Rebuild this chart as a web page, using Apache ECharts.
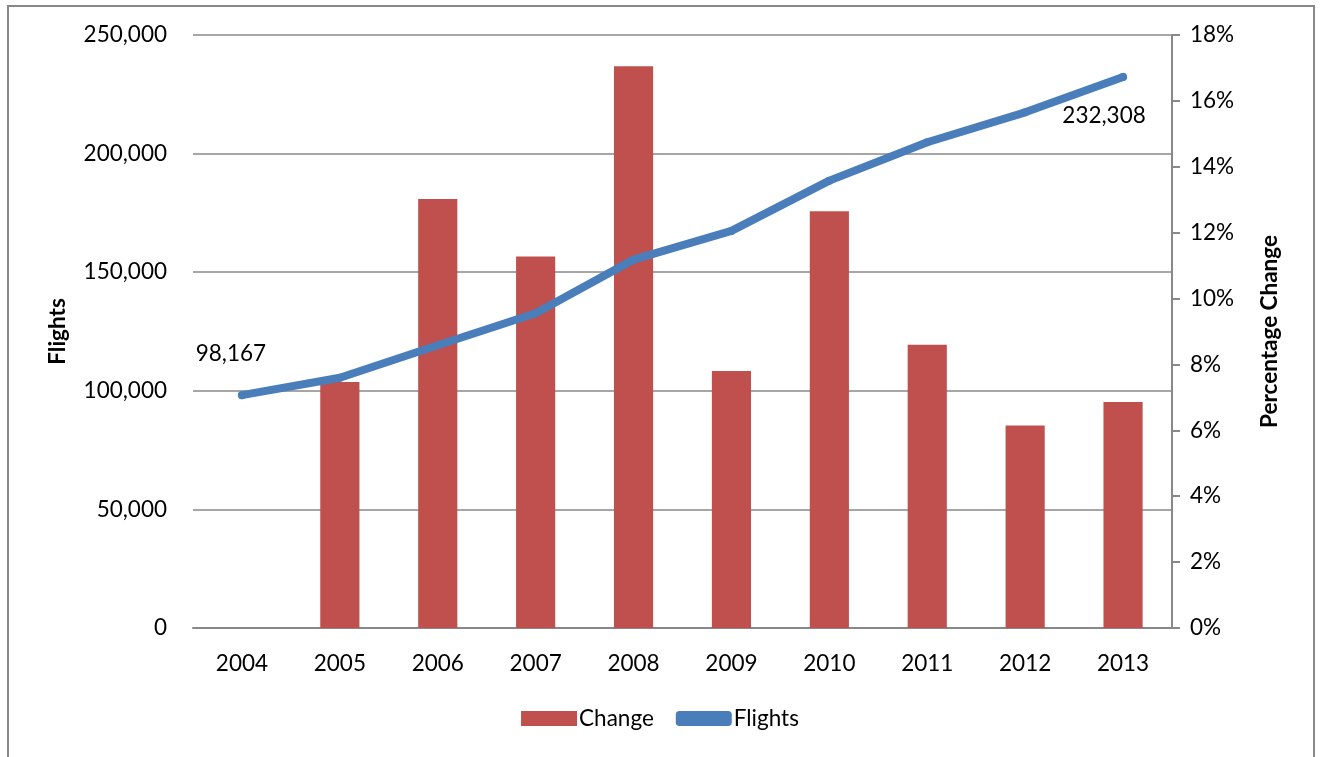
<!DOCTYPE html>
<html>
<head>
<meta charset="utf-8">
<script src="https://cdn.jsdelivr.net/npm/echarts@6/dist/echarts.min.js"></script>
<style>
  html, body { margin: 0; padding: 0; background: #fff; }
  #frame { position: absolute; left: 7px; top: 5px; width: 1308px; height: 760px;
           border: 2px solid #888; border-bottom: none; box-sizing: border-box; }
  #chart { position: absolute; left: 0; top: 0; width: 1320px; height: 757px; }
</style>
</head>
<body>
<div id="frame"></div>
<div id="chart"></div>
<script>
const years = ['2004', '2005', '2006', '2007', '2008', '2009', '2010', '2011', '2012', '2013'];
// Annual flights
const flights = [98167, 105500, 119200, 132700, 155300, 167400, 188600, 204800, 217400, 232308];
// Year-on-year percentage change (no value for the first year)
const change = [null, 7.47, 13.02, 11.28, 17.05, 7.8, 12.65, 8.6, 6.15, 6.86];
const leftTicks = [0, 50000, 100000, 150000, 200000, 250000];
const rightTicks = [0, 2, 4, 6, 8, 10, 12, 14, 16, 18];

const FONT = 'Lato';
const FS = 22.5;
const INK = '#000';
const chart = echarts.init(document.getElementById('chart'));
const fmt = v => v.toLocaleString('en-US');

// first and last points carry a value label
const endLabel = pos => ({
  show: true, position: pos, align: 'center', verticalAlign: 'middle'
});

chart.setOption({
  animation: false,
  textStyle: { fontFamily: FONT },
  grid: { left: 193, right: 148, top: 35, bottom: 129 },
  legend: {
    bottom: 22, left: 'center',
    itemGap: 22, itemWidth: 56, itemHeight: 15,
    textStyle: { fontFamily: FONT, fontSize: FS, color: INK, padding: [0, 0, 0, -3] },
    data: [
      { name: 'Change', icon: 'rect' },
      { name: 'Flights', icon: 'roundRect' }
    ]
  },
  xAxis: {
    type: 'category', data: years,
    axisLine: { lineStyle: { color: '#888', width: 2 } },
    axisTick: { show: false },
    axisLabel: { fontSize: FS, color: INK, margin: 24 }
  },
  yAxis: [
    {
      type: 'value', min: leftTicks[0], max: leftTicks[leftTicks.length - 1], interval: 50000,
      name: 'Flights', nameLocation: 'middle', nameGap: 124, nameRotate: 90,
      nameTextStyle: { fontFamily: FONT, fontSize: FS, fontWeight: 'bold', color: INK },
      axisLine: { show: false }, axisTick: { show: false },
      axisLabel: { fontSize: FS, color: INK, margin: 26, formatter: v => fmt(v) },
      splitLine: { lineStyle: { color: '#888', width: 1.5 } }
    },
    {
      type: 'value', min: rightTicks[0], max: rightTicks[rightTicks.length - 1], interval: 2,
      name: 'Percentage Change', nameLocation: 'middle', nameGap: 86, nameRotate: 90,
      nameTextStyle: { fontFamily: FONT, fontSize: FS, fontWeight: 'bold', color: INK },
      axisLine: { show: true, lineStyle: { color: '#888', width: 2 } },
      axisTick: { show: true, length: 8, lineStyle: { color: '#888', width: 2 } },
      axisLabel: { fontSize: FS, color: INK, margin: 18, formatter: v => v + '%' },
      splitLine: { show: false }
    }
  ],
  series: [
    {
      name: 'Change', type: 'bar', yAxisIndex: 1, data: change,
      barWidth: '40%', itemStyle: { color: '#c0504d' }
    },
    {
      name: 'Flights', type: 'line', yAxisIndex: 0,
      symbol: 'circle', symbolSize: 8, showAllSymbol: true,
      lineStyle: { color: '#4a7ebb', width: 8, cap: 'round', join: 'round' },
      itemStyle: { color: '#4a7ebb' },
      data: flights.map((v, i) => {
        if (i === 0) return { value: v, label: endLabel([-7, -37]) };
        if (i === flights.length - 1) return { value: v, label: endLabel([-15, 43]) };
        return v;
      }),
      label: { show: false, fontSize: FS, color: INK, fontFamily: FONT, formatter: p => fmt(p.value) },
      z: 3
    }
  ]
});
</script>
</body>
</html>
